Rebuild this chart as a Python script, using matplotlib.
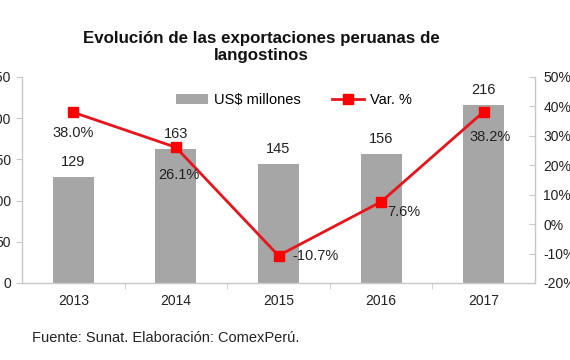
import matplotlib
matplotlib.use("Agg")
from matplotlib import pyplot as plt
from matplotlib.ticker import FuncFormatter

# === 数据 ===
years = ["2013", "2014", "2015", "2016", "2017"]
exports = [129, 163, 145, 156, 216]          # US$ millones
variation = [38.0, 26.1, -10.7, 7.6, 38.2]    # Var. %

title = "Evolución de las exportaciones peruanas de\nlangostinos"
source = "Fuente: Sunat. Elaboración: ComexPerú."

plt.rcParams["font.family"] = ["Liberation Sans", "DejaVu Sans"]

BAR_COLOR = "#a6a6a6"
LINE_COLOR = "#e8141b"
MARK_COLOR = "#ff0000"
AXIS_COLOR = "#c8c8c8"

fig = plt.figure(figsize=(5.7, 3.6), dpi=100)
ax = fig.add_axes([22 / 570, 77 / 360, 513 / 570, 206 / 360])
ax2 = ax.twinx()

x = list(range(len(years)))
bars = ax.bar(x, exports, width=0.4, color=BAR_COLOR, label="US$ millones", zorder=2)
line, = ax2.plot(x, variation, color=LINE_COLOR, lw=2, marker="s", ms=7,
                 mfc=MARK_COLOR, mec=MARK_COLOR, label="Var. %", zorder=3)

ax.set_xlim(-0.5, len(years) - 0.5)
ax.set_ylim(0, 250)
ax.set_yticks(range(0, 251, 50))
ax2.set_ylim(-20, 50)
ax2.set_yticks(range(-20, 51, 10))
ax2.yaxis.set_major_formatter(FuncFormatter(lambda v, p: f"{v:.0f}%"))

ax.set_xticks(x)
ax.set_xticklabels(years)
ax.set_xticks([i + 0.5 for i in x[:-1]], minor=True)

# === 坐标轴样式 ===
for a in (ax, ax2):
    for s in a.spines.values():
        s.set_visible(False)
    a.tick_params(labelsize=10, colors=AXIS_COLOR, labelcolor="#222222")
ax.spines["left"].set_visible(True)
ax.spines["bottom"].set_visible(True)
ax2.spines["right"].set_visible(True)
for s in (ax.spines["left"], ax.spines["bottom"], ax2.spines["right"]):
    s.set_color(AXIS_COLOR)
    s.set_linewidth(1)
ax.tick_params(axis="x", which="major", length=0, pad=8)
ax.tick_params(axis="x", which="minor", length=4, color=AXIS_COLOR)
ax.tick_params(axis="y", length=4, pad=4)
ax2.tick_params(axis="y", direction="in", length=4, pad=6)

# === 数据标签 ===
for i, v in enumerate(exports):
    ax.annotate(f"{v}", (i, v), xytext=(0, 8), textcoords="offset pixels",
                ha="center", va="bottom", fontsize=10.5, color="#222222")

pct_offsets = [(0, -21), (3, -28), (37, 0), (23, -10), (6, -25)]
for i, (v, off) in enumerate(zip(variation, pct_offsets)):
    ax2.annotate(f"{v:.1f}%", (i, v), xytext=off, textcoords="offset pixels",
                 ha="center", va="center", fontsize=10.5, color="#222222", zorder=4)

# === 图例 ===
ax2.legend(handles=[bars, line], loc="center", bbox_to_anchor=(0.53, 0.888),
           ncol=2, frameon=False, fontsize=10.5, handlelength=2.2,
           handletextpad=0.4, columnspacing=2.2)

fig.text(0.458, 1 - 47 / 360, title, ha="center", va="center", fontsize=12.2,
         fontweight="bold", linespacing=1.2, color="#111111")
fig.text(32 / 570, 1 - 338 / 360, source, ha="left", va="center",
         fontsize=10.5, color="#222222")

fig.savefig("out.png", dpi=100)
